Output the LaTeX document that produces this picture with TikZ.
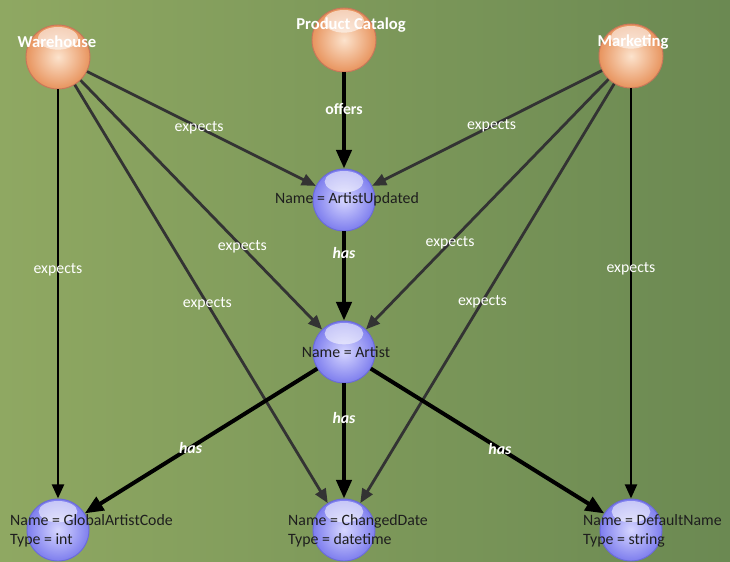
\documentclass[tikz,border=0pt]{standalone}
\usepackage{fontspec}
\setmainfont{Carlito}
\usetikzlibrary{arrows.meta,calc}
\definecolor{bgL}{HTML}{8FA862}
\definecolor{bgR}{HTML}{6B8952}
\definecolor{orbout}{HTML}{E8945E}
\definecolor{orbin}{HTML}{FCE3CD}
\definecolor{orbdraw}{HTML}{C9765A}
\definecolor{bluout}{HTML}{7E7EEE}
\definecolor{bluin}{HTML}{D6D6FF}
\definecolor{bludraw}{HTML}{6A6AD8}
\definecolor{txtdark}{HTML}{1E1E1E}
\begin{document}
\begin{tikzpicture}[x=0.03cm,y=-0.03cm,
  font=\fontsize{13.5}{16}\selectfont,
  orb/.style={circle, minimum size=1.92cm, inner sep=0pt, draw=orbdraw, line width=0.8pt,
    inner color=orbin, outer color=orbout,
    path picture={\fill[white,opacity=0.55] ([yshift=-0.40cm]path picture bounding box.north) ellipse (0.60cm and 0.34cm);}},
  blu/.style={circle, minimum size=1.86cm, inner sep=0pt, draw=bludraw, line width=0.8pt,
    inner color=bluin, outer color=bluout,
    path picture={\fill[white,opacity=0.55] ([yshift=-0.38cm]path picture bounding box.north) ellipse (0.58cm and 0.32cm);}},
  otxt/.style={text=white, font=\fontsize{14.2}{16}\selectfont\bfseries, inner sep=0pt},
  btxt/.style={text=txtdark, inner sep=0pt, align=left},
  exp/.style={draw=black!80, line width=2.4pt, -{Triangle[length=12pt,width=10pt]}},
  expv/.style={draw=black, line width=2.4pt, -{Triangle[length=12pt,width=10pt]}},
  hasl/.style={draw=black, line width=3.4pt, -{Triangle[length=16pt,width=13pt]}},
  elab/.style={text=white, inner sep=1pt},
  hlab/.style={text=white, font=\fontsize{13.5}{16}\selectfont\bfseries\itshape, inner sep=1pt},
  olab/.style={text=white, font=\fontsize{13.5}{16}\selectfont\bfseries, inner sep=1pt}]
\useasboundingbox (0,0) rectangle (730,561);
\shade[left color=bgL, right color=bgR] (0,0) rectangle (730,561);

% nodes
\node[orb] (wh) at (58,57) {};
\node[orb] (pc) at (344,40) {};
\node[orb] (mk) at (631,56) {};
\node[blu] (au) at (344,200) {};
\node[blu] (ar) at (344,352) {};
\node[blu] (gc) at (58,530) {};
\node[blu] (cd) at (344,530) {};
\node[blu] (dn) at (631,530) {};

% connectors
\draw[exp] (wh) -- node[elab,pos=0.49]{expects} (au);
\draw[exp] (wh) -- node[elab,pos=0.67]{expects} (ar);
\draw[exp] (wh) -- node[elab,pos=0.524]{expects} (cd);
\draw[expv] (wh) -- node[elab,pos=0.44]{expects} (gc);
\draw[exp] (mk) -- node[elab,pos=0.48]{expects} (au);
\draw[exp] (mk) -- node[elab,pos=0.653]{expects} (ar);
\draw[exp] (mk) -- node[elab,pos=0.519]{expects} (cd);
\draw[expv] (mk) -- node[elab,pos=0.44]{expects} (dn);
\draw[hasl] (pc) -- node[olab,pos=0.38]{offers} (au);
\draw[hasl] (au) -- node[hlab,pos=0.245]{has} (ar);
\draw[hasl] (ar) -- node[hlab,pos=0.545]{has} (gc);
\draw[hasl] (ar) -- node[hlab,pos=0.30]{has} (cd);
\draw[hasl] (ar) -- node[hlab,pos=0.553]{has} (dn);

% texts
\node[otxt] (whl) at (57,42) {Warehouse};
\node[otxt] (pcl) at (351,25) {Product Catalog};
\node[otxt] (mkl) at (633,42) {Marketing};
\node[btxt] (aul) at (347,199) {Name = ArtistUpdated};
\node[btxt] (arl) at (346,352) {Name = Artist};
\node[btxt, anchor=west] (gcl) at (10,531) {Name = GlobalArtistCode\\Type = int};
\node[btxt, anchor=west] (cdl) at (288,531) {Name = ChangedDate\\Type = datetime};
\node[btxt, anchor=west] (dnl) at (583,531) {Name = DefaultName\\Type = string};
\end{tikzpicture}
\end{document}
